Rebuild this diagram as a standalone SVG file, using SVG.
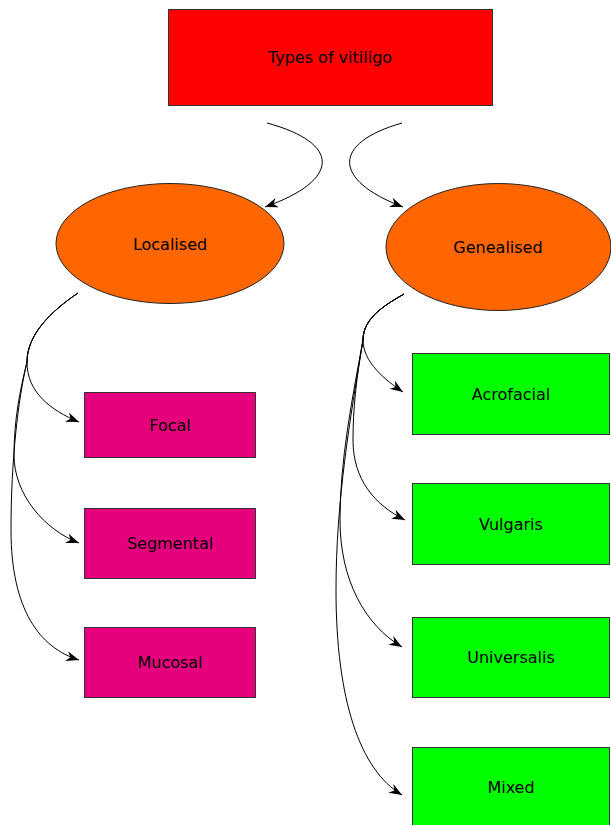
<svg xmlns="http://www.w3.org/2000/svg" width="611" height="825" viewBox="0 0 611 825">
<style>
.box{stroke:#333;stroke-width:1}
.red{fill:#ff0000}
.org{fill:#ff6600;stroke:#222;stroke-width:1}
.pink{fill:#e6007e}
.green{fill:#00ff00}
.lbl{font-family:"DejaVu Sans",Verdana,sans-serif;font-size:16px;fill:#000;text-anchor:middle}
.con{fill:none;stroke:#000;stroke-width:1;marker-end:url(#arr)}
</style>
<defs>
<marker id="arr" markerUnits="userSpaceOnUse" markerWidth="14" markerHeight="10" refX="13" refY="5" orient="auto">
<path d="M0,0 L13,5 L0,10 L4,5 z" fill="#000"/>
</marker>
</defs>
<rect width="611" height="825" fill="#fff"/>
<g id="connectors">
<path class="con" d="M267,123 C341,143 341,180 265,207"/>
<path class="con" d="M402,123 C332,143 332,180 403,207"/>
<path class="con" d="M78,293 C50,312 27,335 27,362 C27,392 50,410 79,422"/>
<path class="con" d="M78,293 C50,312 27,335 27,362 C20,390 14,420 14,455 C14,495 45,530 79,543"/>
<path class="con" d="M78,293 C50,312 27,335 27,362 C18,400 11,460 11,530 C11,610 40,648 79,660"/>
<path class="con" d="M404,294 C385,305 363,318 363,340 C363,362 385,380 403,392"/>
<path class="con" d="M404,294 C385,305 363,318 363,340 C356,380 353,410 353,440 C353,480 375,505 405,520"/>
<path class="con" d="M404,294 C385,305 363,318 363,340 C352,400 340,460 340,520 C340,580 365,625 402,647"/>
<path class="con" d="M404,294 C385,305 363,318 363,340 C350,420 336,500 336,590 C336,700 360,770 402,795"/>
</g>
<g id="types">
<rect class="box red" x="168.5" y="9.5" width="324" height="96"/>
<text class="lbl" x="330" y="63">Types of vitiligo</text>
</g>
<g id="localised">
<ellipse class="org" cx="170" cy="243.5" rx="114" ry="60"/>
<text class="lbl" x="170" y="250">Localised</text>
</g>
<g id="genealised">
<ellipse class="org" cx="498.5" cy="247" rx="112.5" ry="63.5"/>
<text class="lbl" x="498" y="253">Genealised</text>
</g>
<g id="focal">
<rect class="box pink" x="84.5" y="392.5" width="171" height="65"/>
<text class="lbl" x="170" y="431">Focal</text>
</g>
<g id="segmental">
<rect class="box pink" x="84.5" y="508.5" width="171" height="70"/>
<text class="lbl" x="170" y="549">Segmental</text>
</g>
<g id="mucosal">
<rect class="box pink" x="84.5" y="627.5" width="171" height="70"/>
<text class="lbl" x="170" y="668">Mucosal</text>
</g>
<g id="acrofacial">
<rect class="box green" x="412.5" y="353.5" width="197" height="81"/>
<text class="lbl" x="511" y="400">Acrofacial</text>
</g>
<g id="vulgaris">
<rect class="box green" x="412.5" y="483.5" width="197" height="81"/>
<text class="lbl" x="511" y="530">Vulgaris</text>
</g>
<g id="universalis">
<rect class="box green" x="412.5" y="617.5" width="197" height="80"/>
<text class="lbl" x="511" y="663">Universalis</text>
</g>
<g id="mixed">
<rect class="box green" x="412.5" y="747.5" width="197" height="82"/>
<text class="lbl" x="511" y="793">Mixed</text>
</g>
</svg>
